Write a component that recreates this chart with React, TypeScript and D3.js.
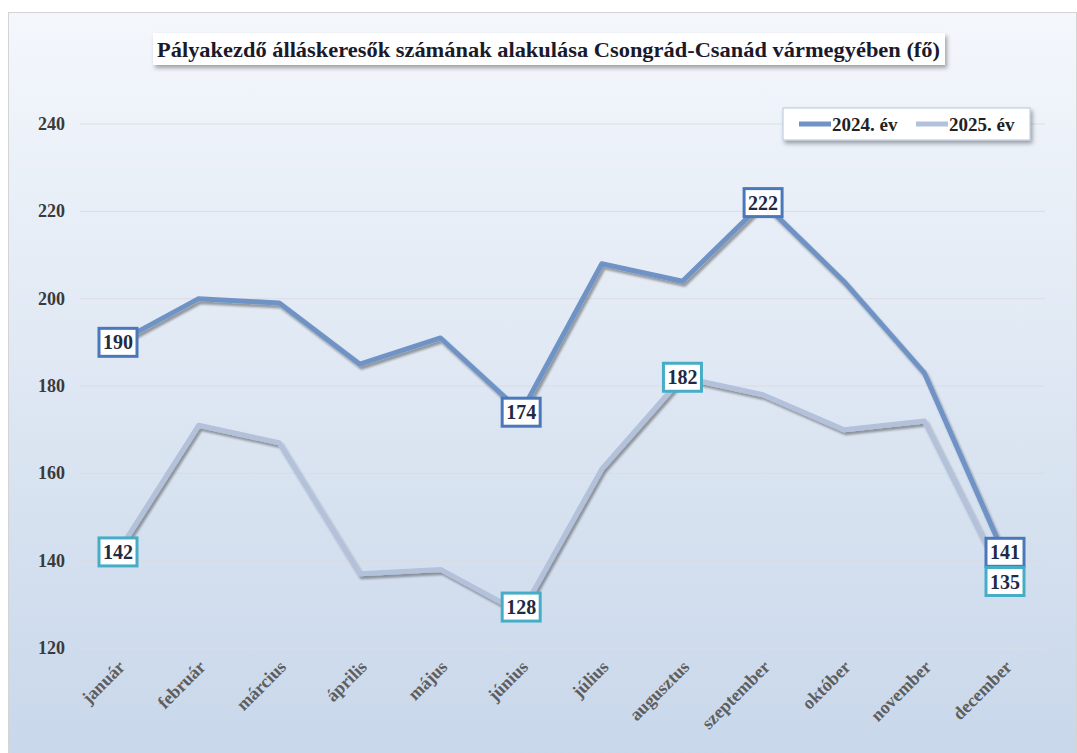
import React, { useRef, useEffect } from 'react';
import * as d3 from 'd3';

const months = ['január', 'február', 'március', 'április', 'május', 'június', 'július', 'augusztus', 'szeptember', 'október', 'november', 'december'];
const values2024 = [190, 200, 199, 185, 191, 174, 208, 204, 222, 204, 183, 141];
const values2025 = [142, 171, 167, 137, 138, 128, 161, 182, 178, 170, 172, 135];
const yTicks = [120, 140, 160, 180, 200, 220, 240];
// which points carry a value box
const labeled2024 = [0, 5, 8, 11];
const labeled2025 = [0, 5, 7, 11];

const W = 1077;
const H = 753;
const FONT = '"Times New Roman", "Liberation Serif", "DejaVu Serif", serif';

const App = () => {
    const ref = useRef<SVGSVGElement>(null);

    useEffect(() => {
        const svg = d3.select(ref.current);
        svg.selectAll('*').remove();

        const defs = svg.append('defs');
        const grad = defs.append('linearGradient').attr('id', 'bg').attr('x1', 0).attr('y1', 0).attr('x2', 0).attr('y2', 1);
        grad.append('stop').attr('offset', '0%').attr('stop-color', '#f4f7fc');
        grad.append('stop').attr('offset', '100%').attr('stop-color', '#c8d7ea');

        const sh = defs.append('filter').attr('id', 'shadow').attr('x', '-10%').attr('y', '-30%').attr('width', '130%').attr('height', '180%');
        sh.append('feDropShadow').attr('dx', 2).attr('dy', 3).attr('stdDeviation', 2).attr('flood-color', '#000').attr('flood-opacity', 0.35);
        const lsh = defs.append('filter').attr('id', 'lshadow').attr('x', '-5%').attr('y', '-5%').attr('width', '110%').attr('height', '110%');
        lsh.append('feDropShadow').attr('dx', 2).attr('dy', 3).attr('stdDeviation', 1.2).attr('flood-color', '#000').attr('flood-opacity', 0.35);

        svg.append('rect')
            .attr('x', 8.5).attr('y', 12.5).attr('width', 1068).attr('height', 745)
            .attr('fill', 'url(#bg)').attr('stroke', '#d4d4d4');

        const x = d3.scalePoint().domain(months).range([118, 1005]);
        const y = d3.scaleLinear().domain([120, 240]).range([648, 124]);

        // grid
        svg.append('g').selectAll('line').data(yTicks).enter().append('line')
            .attr('x1', 80).attr('x2', 1045)
            .attr('y1', d => y(d)).attr('y2', d => y(d))
            .attr('stroke', '#d9dde3').attr('stroke-width', 1);

        // y labels
        svg.append('g').selectAll('text').data(yTicks).enter().append('text')
            .attr('x', 65).attr('y', d => y(d) + 6)
            .attr('text-anchor', 'end')
            .style('font-family', FONT).attr('font-weight', 'bold').attr('font-size', 18)
            .attr('fill', '#3a3a3a')
            .text(d => d);

        // x labels
        svg.append('g').selectAll('text').data(months).enter().append('text')
            .attr('transform', d => `translate(${x(d)! + 8},${668}) rotate(-45)`)
            .attr('text-anchor', 'end')
            .style('font-family', FONT).attr('font-weight', 'bold').attr('font-size', 18)
            .attr('fill', '#5e5e5e')
            .text(d => d);

        const line = d3.line<number>()
            .x((_, i) => x(months[i])!)
            .y(d => y(d));

        svg.append('path').datum(values2025)
            .attr('fill', 'none').attr('stroke', '#b3c1db').attr('stroke-width', 5)
            .attr('stroke-linejoin', 'round')
            .attr('filter', 'url(#lshadow)')
            .attr('d', line);
        svg.append('path').datum(values2024)
            .attr('fill', 'none').attr('stroke', '#7093c6').attr('stroke-width', 5)
            .attr('stroke-linejoin', 'round')
            .attr('filter', 'url(#lshadow)')
            .attr('d', line);

        const boxes = (idx: number[], vals: number[], color: string, dy: (i: number) => number) => {
            const g = svg.append('g');
            idx.forEach(i => {
                const cx = x(months[i])!;
                const cy = y(vals[i]) + dy(i);
                g.append('rect')
                    .attr('x', cx - 19).attr('y', cy - 14).attr('width', 38).attr('height', 28)
                    .attr('fill', '#fff').attr('stroke', color).attr('stroke-width', 3);
                g.append('text')
                    .attr('x', cx).attr('y', cy + 7)
                    .attr('text-anchor', 'middle')
                    .style('font-family', FONT).attr('font-weight', 'bold').attr('font-size', 20)
                    .attr('fill', '#1f2a44')
                    .text(vals[i]);
            });
        };
        boxes(labeled2024, values2024, '#4a78bb', i => (i === 11 ? -4 : 0));
        boxes(labeled2025, values2025, '#47adc7', i => (i === 11 ? -1 : i === 5 ? -6 : 0));

        // title
        svg.append('rect')
            .attr('x', 153).attr('y', 33).attr('width', 792).attr('height', 32)
            .attr('fill', '#fff').attr('filter', 'url(#shadow)');
        svg.append('text')
            .attr('x', 157).attr('y', 57)
            .attr('textLength', 783).attr('lengthAdjust', 'spacingAndGlyphs')
            .style('font-family', FONT).attr('font-weight', 'bold').attr('font-size', 22)
            .attr('fill', '#1a1a2a')
            .text('Pályakezdő álláskeresők számának alakulása Csongrád-Csanád vármegyében (fő)');

        // legend
        const lg = svg.append('g');
        lg.append('rect')
            .attr('x', 783).attr('y', 108).attr('width', 247).attr('height', 32)
            .attr('fill', '#fff').attr('stroke', '#b8c6dc').attr('filter', 'url(#shadow)');
        const items = [
            { label: '2024. év', color: '#7093c6', x0: 799 },
            { label: '2025. év', color: '#b3c1db', x0: 916 },
        ];
        items.forEach(it => {
            lg.append('line')
                .attr('x1', it.x0).attr('x2', it.x0 + 32)
                .attr('y1', 124).attr('y2', 124)
                .attr('stroke', it.color).attr('stroke-width', 5);
            lg.append('text')
                .attr('x', it.x0 + 33).attr('y', 131)
                .style('font-family', FONT).attr('font-weight', 'bold').attr('font-size', 19)
                .attr('fill', '#222')
                .text(it.label);
        });
    }, []);

    return <svg ref={ref} width={W} height={H} style={{ display: 'block', position: 'absolute', left: 0, top: 0 }}></svg>;
};

export default App;
